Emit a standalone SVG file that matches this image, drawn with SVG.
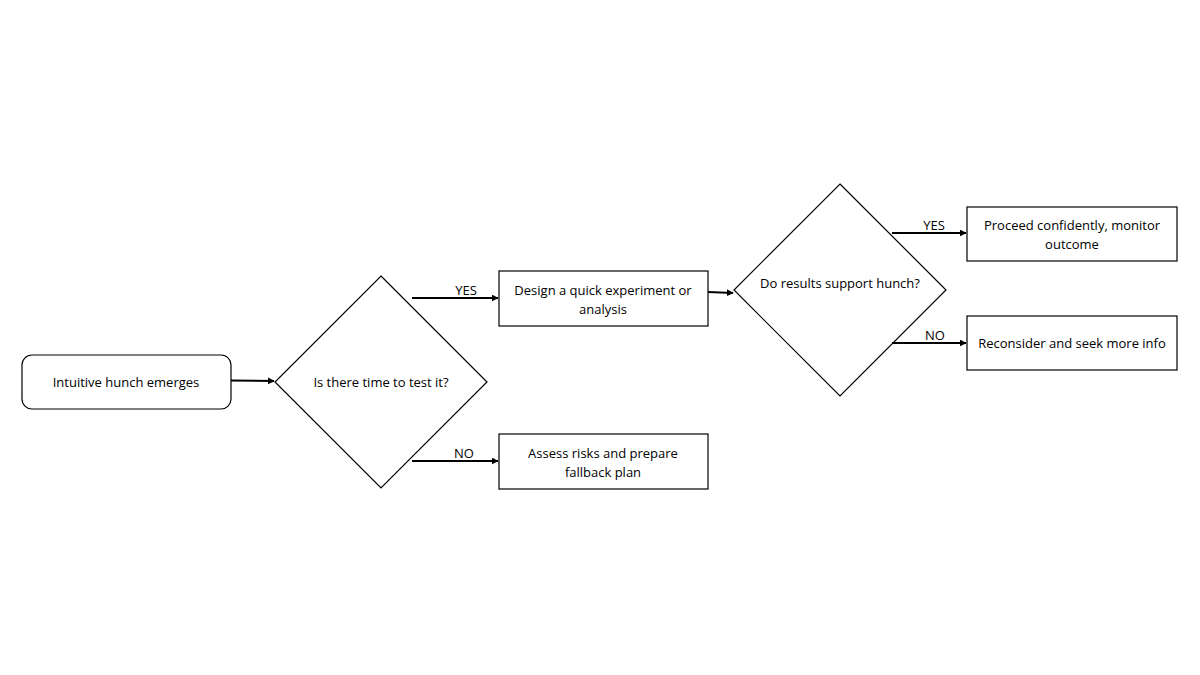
<svg xmlns="http://www.w3.org/2000/svg" width="1200" height="675" viewBox="0 0 1200 675">
<defs>
<marker id="ah" viewBox="0 0 10 10" refX="9" refY="5" markerWidth="7" markerHeight="7" markerUnits="userSpaceOnUse" orient="auto"><path d="M0,0 L10,5 L0,10 z" fill="#000"/></marker>
<style>
.s{fill:#fff;stroke:#000;stroke-width:1.2}
.t{font-family:"Open Sans","Noto Sans",sans-serif;font-size:13px;fill:#000;text-anchor:middle}
.c{stroke:#000;stroke-width:2;fill:none;marker-end:url(#ah)}
</style>
</defs>
<rect width="1200" height="675" fill="#fff"/>
<g id="start"><rect class="s" x="22" y="355" width="209" height="54" rx="10"/><text class="t" x="126" y="387">Intuitive hunch emerges</text></g>
<g id="d1"><polygon class="s" points="381,276 487,382 381,488 275,382"/><text class="t" x="381" y="387">Is there time to test it?</text></g>
<g id="design"><rect class="s" x="499" y="271" width="209" height="55"/><text class="t" x="603" y="295">Design a quick experiment or</text><text class="t" x="603" y="314">analysis</text></g>
<g id="assess"><rect class="s" x="499" y="434" width="209" height="55"/><text class="t" x="603" y="458">Assess risks and prepare</text><text class="t" x="603" y="477">fallback plan</text></g>
<g id="d2"><polygon class="s" points="840,184 946,290 840,396 734,290"/><text class="t" x="840" y="288">Do results support hunch?</text></g>
<g id="proceed"><rect class="s" x="967" y="207" width="210" height="54"/><text class="t" x="1072" y="230">Proceed confidently, monitor</text><text class="t" x="1072" y="249">outcome</text></g>
<g id="reconsider"><rect class="s" x="967" y="316" width="210" height="54"/><text class="t" x="1072" y="348">Reconsider and seek more info</text></g>
<g id="connectors">
<path class="c" d="M231,380.5 L274,381"/>
<path class="c" d="M412,298 L498,298"/><text class="t" x="466" y="295">YES</text>
<path class="c" d="M412,461 L498,461"/><text class="t" x="464" y="458">NO</text>
<path class="c" d="M708,292 L733,293"/>
<path class="c" d="M892,233 L966,233"/><text class="t" x="934" y="230">YES</text>
<path class="c" d="M892,343 L966,343"/><text class="t" x="935" y="340">NO</text>
</g>
</svg>
